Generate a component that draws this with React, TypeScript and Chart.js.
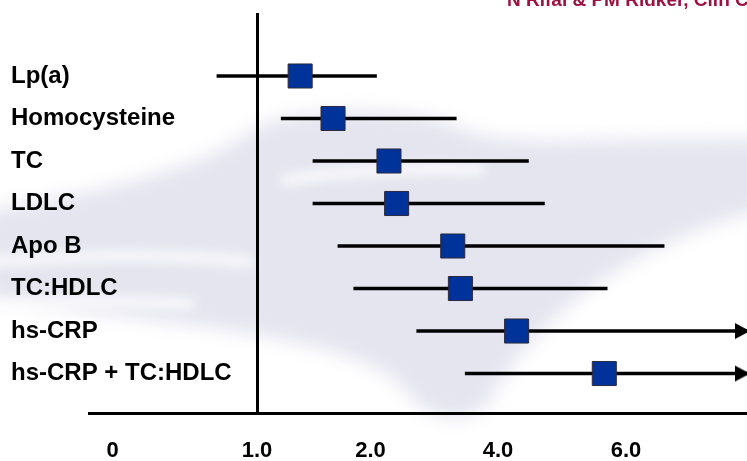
import React, { useEffect, useRef } from 'react';
import { Chart, registerables } from 'chart.js';

Chart.register(...registerables);

// ---- data ----
const CATEGORIES = ['Lp(a)', 'Homocysteine', 'TC', 'LDLC', 'Apo B', 'TC:HDLC', 'hs-CRP', 'hs-CRP + TC:HDLC'];
const RELATIVE_RISK = [1.38, 1.67, 2.29, 2.41, 3.29, 3.41, 4.29, 5.66];
const CI_LOWER = [0.72, 1.21, 1.49, 1.49, 1.71, 1.85, 2.72, 3.48];
const CI_UPPER = [2.1, 3.35, 4.48, 4.73, 6.6, 5.71, 8.9, 9.5];
const TICK_VALUES = [0, 1, 2, 4, 6];
const TICK_LABELS = ['0', '1.0', '2.0', '4.0', '6.0'];
const CITATION = 'N Rifai & PM Ridker, Clin Chem 2001';

// ---- non-uniform (hand-drawn) axis: value breakpoints -> axis units ----
const BREAK_VALUES = [0, 1, 2, 4, 6];
const BREAK_UNITS = [0, 1, 1.785, 2.668, 3.554];
const X_MIN = -0.163;
const X_MAX = 4.391;
const Y_MIN = -1.482;
const Y_MAX = 7.929;

function toUnits(v: number): number {
  const n = BREAK_VALUES.length;
  for (let i = 1; i < n; i++) {
    if (v <= BREAK_VALUES[i] || i === n - 1) {
      const v0 = BREAK_VALUES[i - 1];
      const v1 = BREAK_VALUES[i];
      const u0 = BREAK_UNITS[i - 1];
      const u1 = BREAK_UNITS[i];
      return u0 + ((v - v0) * (u1 - u0)) / (v1 - v0);
    }
  }
  return 0;
}

const FONT = '"Liberation Sans", Arial, Helvetica, sans-serif';

function makeArrowHead(): HTMLCanvasElement {
  const c = document.createElement('canvas');
  c.width = 30;
  c.height = 18;
  const g = c.getContext('2d')!;
  g.fillStyle = '#000';
  g.beginPath();
  g.moveTo(3, 1);
  g.lineTo(18, 9);
  g.lineTo(3, 17);
  g.closePath();
  g.fill();
  return c;
}

const swooshPlugin = {
  id: 'swoosh',
  beforeDraw(chart: any) {
    const ctx = chart.ctx as CanvasRenderingContext2D;
    ctx.save();
    ctx.fillStyle = '#ffffff';
    ctx.fillRect(0, 0, chart.width, chart.height);
    ctx.filter = 'blur(9px)';
    ctx.fillStyle = '#e5e5f0';
    ctx.beginPath();
    ctx.moveTo(-20, 212);
    ctx.bezierCurveTo(80, 195, 190, 175, 250, 132);
    ctx.bezierCurveTo(275, 110, 400, 100, 460, 128);
    ctx.bezierCurveTo(500, 145, 560, 140, 620, 140);
    ctx.lineTo(770, 138);
    ctx.lineTo(770, 208);
    ctx.bezierCurveTo(640, 240, 540, 310, 490, 400);
    ctx.bezierCurveTo(470, 428, 430, 422, 410, 395);
    ctx.bezierCurveTo(380, 350, 250, 332, 150, 320);
    ctx.bezierCurveTo(80, 310, 20, 302, -20, 298);
    ctx.closePath();
    ctx.fill();

    ctx.filter = 'blur(6px)';
    ctx.strokeStyle = 'rgba(255,255,255,0.85)';
    ctx.lineCap = 'round';
    ctx.lineWidth = 10;
    ctx.beginPath();
    ctx.moveTo(-10, 262);
    ctx.quadraticCurveTo(140, 250, 250, 262);
    ctx.stroke();
    ctx.beginPath();
    ctx.moveTo(-10, 308);
    ctx.quadraticCurveTo(100, 298, 190, 304);
    ctx.stroke();
    ctx.beginPath();
    ctx.moveTo(285, 180);
    ctx.quadraticCurveTo(380, 166, 480, 170);
    ctx.stroke();
    ctx.restore();
  },
  afterDraw(chart: any) {
    const ctx = chart.ctx as CanvasRenderingContext2D;
    ctx.save();
    ctx.font = `bold 19px ${FONT}`;
    ctx.fillStyle = '#9e1040';
    ctx.textAlign = 'left';
    ctx.textBaseline = 'alphabetic';
    ctx.fillText(CITATION, 507, 6);
    ctx.restore();
  },
};

function zeroPadding(scale: any) {
  scale.paddingTop = 0;
  scale.paddingBottom = 0;
  scale.paddingLeft = 0;
  scale.paddingRight = 0;
}

export default function App() {
  const ref = useRef<HTMLCanvasElement | null>(null);

  useEffect(() => {
    if (!ref.current) return;
    const arrowHead = makeArrowHead();
    const refUnit = toUnits(1);

    const whiskers = CATEGORIES.map((_, i) => ({
      type: 'scatter' as const,
      data: [
        { x: toUnits(CI_LOWER[i]), y: i },
        { x: toUnits(CI_UPPER[i]), y: i },
      ],
      showLine: true,
      borderColor: '#000',
      borderWidth: 3.5,
      pointRadius: 0,
      order: 3,
    }));

    const arrowPoints = CATEGORIES.map((_, i) => i)
      .filter((i) => toUnits(CI_UPPER[i]) > X_MAX)
      .map((i) => ({ x: X_MAX, y: i }));

    const chart = new Chart(ref.current, {
      type: 'scatter',
      data: {
        datasets: [
          {
            data: RELATIVE_RISK.map((v, i) => ({ x: toUnits(v), y: i })),
            pointStyle: 'rect',
            pointRadius: 17,
            backgroundColor: '#003399',
            borderColor: '#2a2a40',
            borderWidth: 1,
            order: 0,
          },
          {
            data: arrowPoints,
            pointStyle: arrowHead,
            clip: false,
            order: 1,
          } as any,
          ...whiskers,
        ],
      },
      options: {
        animation: false,
        responsive: false,
        devicePixelRatio: 1,
        layout: { autoPadding: false, padding: { left: 11, top: 13, right: 0, bottom: 0 } },
        plugins: { legend: { display: false }, tooltip: { enabled: false } },
        scales: {
          x: {
            type: 'linear',
            min: X_MIN,
            max: X_MAX,
            afterBuildTicks: (scale: any) => {
              scale.ticks = TICK_VALUES.map((v) => ({ value: toUnits(v) }));
            },
            afterFit: (scale: any) => {
              scale.height = 48;
              zeroPadding(scale);
            },
            ticks: {
              autoSkip: false,
              maxRotation: 0,
              padding: 0,
              color: '#000',
              font: { family: FONT, size: 22, weight: 'bold' },
              callback: (_v: any, idx: number) => TICK_LABELS[idx],
            },
            grid: {
              drawTicks: true,
              tickLength: 25,
              tickColor: 'rgba(0,0,0,0)',
              lineWidth: 3,
              color: (c: any) =>
                c.tick && Math.abs(c.tick.value - refUnit) < 1e-6 ? '#000' : 'rgba(0,0,0,0)',
            },
            border: { display: true, color: '#000', width: 3 },
          },
          y: {
            type: 'linear',
            reverse: true,
            min: Y_MIN,
            max: Y_MAX,
            afterBuildTicks: (scale: any) => {
              scale.ticks = CATEGORIES.map((_, i) => ({ value: i }));
            },
            afterFit: (scale: any) => {
              scale.width = 78;
              zeroPadding(scale);
            },
            ticks: {
              autoSkip: false,
              mirror: true,
              crossAlign: 'near',
              padding: -78,
              color: '#000',
              font: { family: FONT, size: 24, weight: 'bold' },
              callback: (_v: any, idx: number) => CATEGORIES[idx],
            },
            grid: { display: false, drawTicks: false },
            border: { display: false },
          },
        },
      },
      plugins: [swooshPlugin],
    } as any);

    return () => chart.destroy();
  }, []);

  return (
    <div style={{ position: 'fixed', left: 0, top: 0, width: 747, height: 461 }}>
      <canvas ref={ref} width={747} height={461} />
    </div>
  );
}
